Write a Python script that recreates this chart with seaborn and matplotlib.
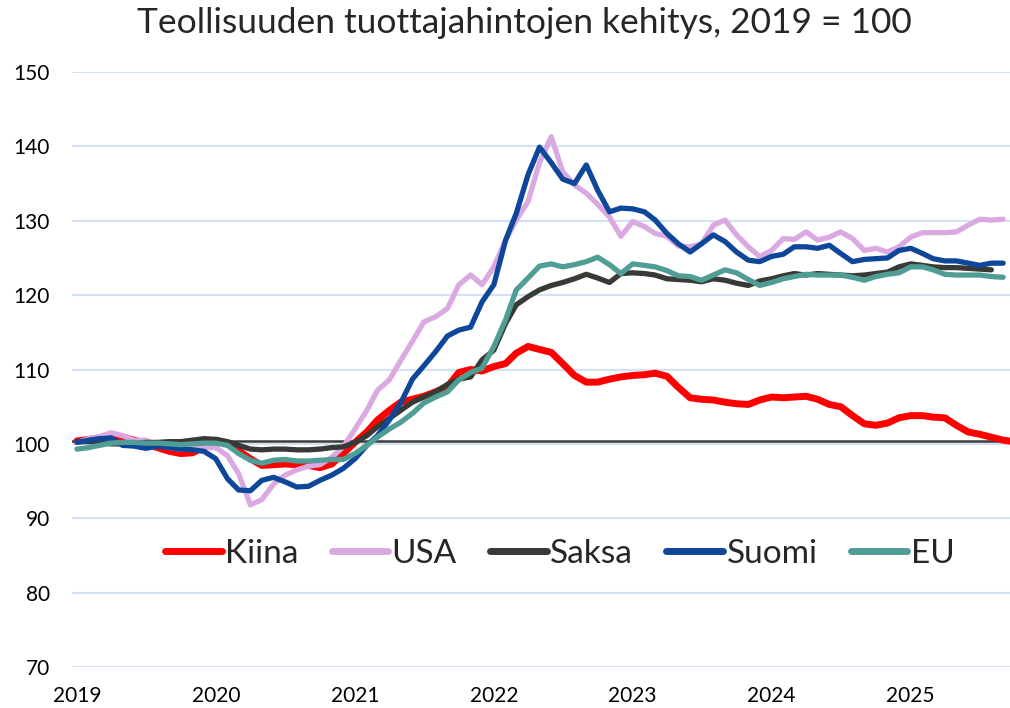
import matplotlib
matplotlib.use('Agg')
import matplotlib.pyplot as plt
import matplotlib.dates as mdates
import pandas as pd
import seaborn as sns

# kuukausisarjat, 2019-01 alkaen (2019 = 100)
kiina = [100.4, 100.6, 100.8, 101.1, 100.9, 100.5, 100.0, 99.5, 99.0, 98.7, 98.8, 99.6,
         100.5, 100.1, 99.1, 98.0, 97.1, 97.2, 97.3, 97.2, 97.1, 96.8, 97.3, 98.7,
         100.2, 101.6, 103.2, 104.5, 105.6, 106.0, 106.4, 107.0, 107.7, 109.6, 110.0, 109.8,
         110.4, 110.8, 112.2, 113.1, 112.7, 112.3, 110.8, 109.2, 108.3, 108.3, 108.7, 109.0,
         109.2, 109.3, 109.5, 109.1, 107.6, 106.2, 106.0, 105.9, 105.6, 105.4, 105.3, 105.9,
         106.3, 106.2, 106.3, 106.4, 106.0, 105.3, 105.0, 103.8, 102.7, 102.5, 102.8, 103.5,
         103.8, 103.8, 103.6, 103.5, 102.5, 101.6, 101.3, 100.9, 100.5, 100.3]
usa = [100.2, 100.7, 101.0, 101.5, 101.1, 100.5, 100.5, 99.8, 99.5, 99.3, 99.3, 99.5,
       99.5, 98.4, 96.0, 91.8, 92.5, 94.6, 95.8, 96.5, 97.0, 97.2, 98.2, 99.6,
       102.0, 104.5, 107.2, 108.6, 111.2, 113.8, 116.4, 117.1, 118.2, 121.4, 122.7, 121.4,
       123.8, 127.4, 130.1, 132.6, 137.8, 141.3, 136.6, 134.8, 133.7, 132.2, 130.5, 127.9,
       129.9, 129.2, 128.3, 127.9, 126.6, 126.5, 126.9, 129.4, 130.1, 128.1, 126.5, 125.2,
       126.0, 127.6, 127.5, 128.5, 127.4, 127.8, 128.5, 127.6, 126.0, 126.3, 125.8, 126.5,
       127.8, 128.4, 128.4, 128.4, 128.5, 129.4, 130.2, 130.1, 130.2]
saksa = [100.3, 100.3, 100.2, 100.0, 100.0, 100.1, 100.2, 100.2, 100.3, 100.3, 100.5, 100.7,
         100.6, 100.3, 99.8, 99.3, 99.2, 99.3, 99.3, 99.2, 99.2, 99.3, 99.5, 99.6,
         100.2, 101.1, 102.3, 103.4, 104.5, 105.6, 106.3, 107.0, 108.0, 108.7, 109.0, 111.3,
         112.6, 116.2, 118.7, 119.8, 120.7, 121.3, 121.7, 122.2, 122.8, 122.3, 121.7, 122.9,
         123.0, 122.9, 122.7, 122.2, 122.1, 122.0, 121.8, 122.2, 122.0, 121.6, 121.3, 121.9,
         122.2, 122.6, 122.9, 122.7, 122.9, 122.8, 122.7, 122.6, 122.7, 122.9, 123.1, 123.8,
         124.2, 124.0, 123.8, 123.7, 123.7, 123.6, 123.5, 123.4]
suomi = [100.2, 100.5, 100.7, 100.8, 99.8, 99.7, 99.4, 99.7, 99.5, 99.3, 99.2, 99.0,
         98.0, 95.3, 93.8, 93.7, 95.1, 95.5, 94.9, 94.2, 94.3, 95.1, 95.8, 96.7,
         98.0, 99.8, 101.1, 103.2, 105.5, 108.7, 110.5, 112.4, 114.5, 115.3, 115.7, 119.1,
         121.4, 127.4, 131.0, 136.2, 139.9, 137.8, 135.6, 135.0, 137.5, 134.1, 131.2, 131.7,
         131.6, 131.2, 130.1, 128.3, 126.9, 125.8, 126.9, 128.1, 127.2, 125.8, 124.7, 124.5,
         125.2, 125.5, 126.5, 126.5, 126.3, 126.7, 125.6, 124.5, 124.8, 124.9, 125.0, 126.0,
         126.3, 125.6, 124.9, 124.6, 124.6, 124.3, 124.0, 124.3, 124.3]
eu = [99.3, 99.5, 99.8, 100.1, 100.2, 100.2, 100.1, 100.1, 100.0, 99.9, 100.0, 100.1,
      100.1, 99.8, 98.7, 97.8, 97.4, 97.8, 97.9, 97.7, 97.7, 97.8, 97.9, 97.9,
      98.7, 99.8, 100.9, 102.0, 102.9, 104.1, 105.5, 106.3, 107.0, 108.6, 109.6, 110.2,
      113.1, 116.7, 120.7, 122.3, 123.9, 124.2, 123.8, 124.1, 124.5, 125.1, 124.1, 122.9,
      124.2, 124.0, 123.8, 123.3, 122.6, 122.5, 122.0, 122.7, 123.4, 123.0, 122.1, 121.3,
      121.7, 122.2, 122.5, 122.8, 122.7, 122.7, 122.7, 122.4, 122.0, 122.5, 122.8, 123.0,
      123.8, 123.8, 123.4, 122.8, 122.7, 122.7, 122.7, 122.5, 122.4]

sarjat = {'Kiina': kiina, 'USA': usa, 'Saksa': saksa, 'Suomi': suomi, 'EU': eu}
varit = {'Kiina': '#FF0000', 'USA': '#DBA9E2', 'Saksa': '#383A35',
         'Suomi': '#0E4699', 'EU': '#509D96'}
paksuus = {'Kiina': 5.0, 'USA': 3.8, 'Saksa': 3.8, 'Suomi': 3.8, 'EU': 3.8}

sns.set_theme(style="white")
plt.rcParams['font.family'] = ['Lato', 'DejaVu Sans']

fig = plt.figure(figsize=(10.1, 7.08), dpi=100)
ax = fig.add_axes([0.0713, 0.0579, 0.9287, 0.8404])

ax.axhline(100.35, color='#3C3C3C', lw=1.8, zorder=1.5)

for i, (nimi, arvot) in enumerate(sarjat.items()):
    df = pd.DataFrame({'pvm': pd.date_range('2019-01-01', periods=len(arvot), freq='MS'),
                       'arvo': arvot})
    sns.lineplot(data=df, x='pvm', y='arvo', ax=ax, color=varit[nimi],
                 lw=paksuus[nimi], label=nimi, zorder=2 + i,
                 solid_capstyle='round', solid_joinstyle='round')

ax.set_ylim(70, 150)
ax.set_yticks(range(70, 151, 10))
ax.set_xlim(pd.Timestamp('2018-12-19'), pd.Timestamp('2025-09-19'))
ax.xaxis.set_major_locator(mdates.YearLocator())
ax.xaxis.set_major_formatter(mdates.DateFormatter('%Y'))
ax.grid(axis='y', color='#D3E1F4', lw=1.5)
ax.grid(axis='x', visible=False)
ax.set_axisbelow(True)
for s in ax.spines.values():
    s.set_visible(False)
ax.tick_params(axis='both', length=0, labelsize=15, colors='black')
ax.tick_params(axis='y', pad=16)
ax.tick_params(axis='x', pad=14)
ax.set_xlabel('')
ax.set_ylabel('')

leg = ax.legend(loc='center', bbox_to_anchor=(0.52, 0.19), ncol=5, frameon=False,
                fontsize=24, handlelength=1.7, handletextpad=0.1, columnspacing=1.0)
for h in leg.get_lines():
    h.set_linewidth(5)

fig.text(0.519, 0.968, 'Teollisuuden tuottajahintojen kehitys, 2019 = 100',
         ha='center', va='center', fontsize=25.5)

fig.savefig('out.png', dpi=100)
plt.close(fig)
